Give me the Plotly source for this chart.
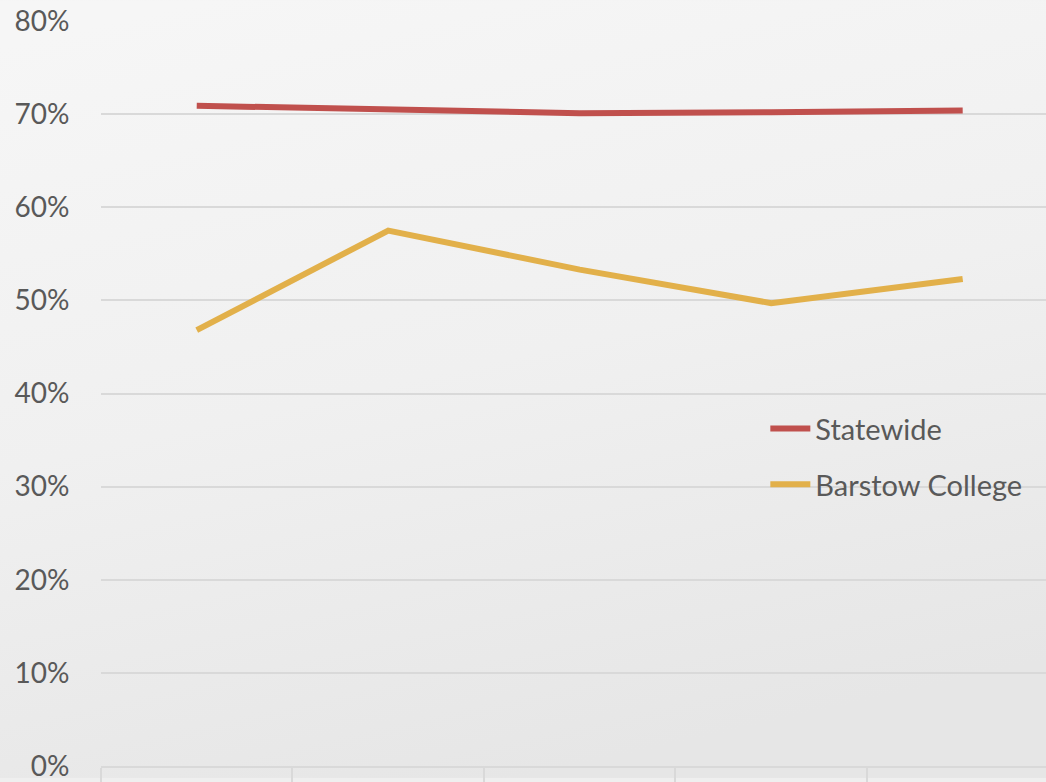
import base64
import plotly.graph_objects as go

categories = ["Cohort 1", "Cohort 2", "Cohort 3", "Cohort 4", "Cohort 5"]
statewide = [0.709, 0.705, 0.701, 0.702, 0.704]
barstow = [0.468, 0.575, 0.533, 0.497, 0.523]

W, H = 1046, 782
ML, MR, MT, MB = 101, 0, 21, 12
PW, PH = W - ML - MR, H - MT - MB

bg_svg = (
    '<svg xmlns="http://www.w3.org/2000/svg" width="1046" height="782">'
    '<defs><linearGradient id="g" x1="0.2" y1="0" x2="0.5" y2="1">'
    '<stop offset="0" stop-color="#f6f6f6"/>'
    '<stop offset="0.5" stop-color="#f0f0f0"/>'
    '<stop offset="1" stop-color="#e6e6e6"/>'
    '</linearGradient></defs>'
    '<rect width="1046" height="782" fill="url(#g)"/></svg>'
)
bg_uri = "data:image/svg+xml;base64," + base64.b64encode(bg_svg.encode()).decode()

fig = go.Figure()
fig.add_trace(go.Scatter(x=categories, y=statewide, name="Statewide", mode="lines",
                         legendgroup="a",
                         line=dict(color="#c0504d", width=6)))
fig.add_trace(go.Scatter(x=categories, y=barstow, name="Barstow College", mode="lines",
                         legendgroup="b",
                         line=dict(color="#e2b04a", width=6)))

fig.update_layout(
    width=W, height=H,
    margin=dict(l=ML, r=MR, t=MT, b=MB),
    paper_bgcolor="#efefef", plot_bgcolor="rgba(0,0,0,0)",
    font=dict(family="Lato", color="#595959", size=28),
    showlegend=True,
    legend=dict(x=0.703, y=0.487, xanchor="left", yanchor="top",
                bgcolor="rgba(0,0,0,0)", font=dict(size=29, color="#595959"),
                tracegroupgap=15, traceorder="grouped", itemwidth=40),
    images=[dict(source=bg_uri, xref="paper", yref="paper",
                 x=-ML / PW, y=1 + MT / PH, sizex=W / PW, sizey=H / PH,
                 xanchor="left", yanchor="top",
                 sizing="stretch", layer="below")],
)
fig.update_xaxes(type="category", range=[-0.5, 4.435], showticklabels=False,
                 showgrid=False, showline=True, linecolor="#d9d9d9", linewidth=1.5,
                 ticks="outside", ticklen=15, tickcolor="#d9d9d9", tickwidth=1.5,
                 tickson="boundaries", zeroline=False)
fig.update_yaxes(range=[0, 0.8], dtick=0.1, tickformat=".0%", showgrid=True,
                 gridcolor="#d9d9d9", gridwidth=1.5, zeroline=False, showline=False,
                 ticks="outside", ticklen=25, tickcolor="rgba(0,0,0,0)",
                 ticklabeloverflow="allow",
                 tickfont=dict(size=28, color="#595959"))

fig.write_html("out.html", config={"displayModeBar": False},
               post_script="document.body.style.margin='0';document.body.style.overflow='hidden';")
